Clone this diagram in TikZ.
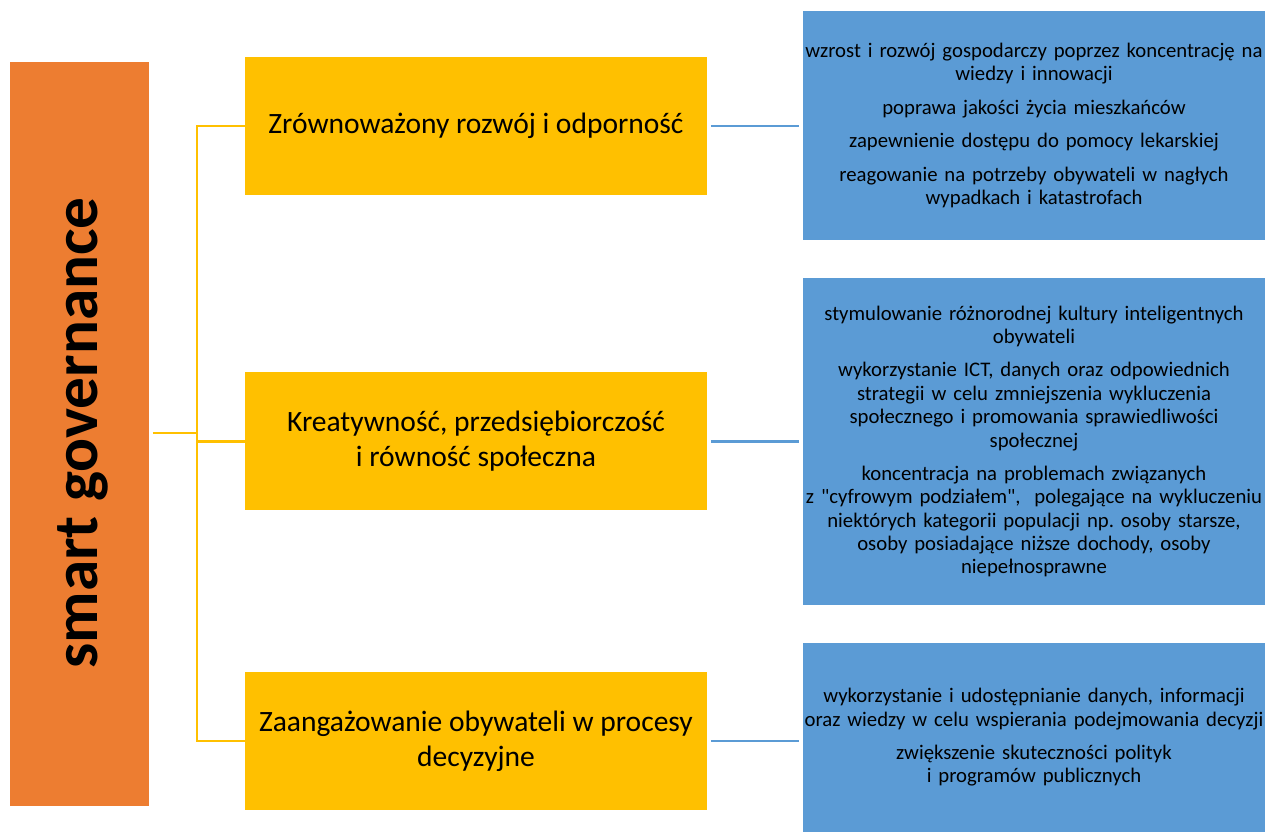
\documentclass[tikz,border=0pt]{standalone}
\usepackage{fontspec}
\setmainfont{Carlito}
\usepackage{tikz}
\usetikzlibrary{positioning}

\definecolor{govorange}{HTML}{ED7D31}
\definecolor{areayellow}{HTML}{FFC000}
\definecolor{goalblue}{HTML}{5B9BD5}

\begin{document}
\begin{tikzpicture}[
    area/.style={fill=areayellow, minimum width=9.24cm, minimum height=2.76cm, align=center, font=\fontsize{16.8}{20}\selectfont},
    goal/.style={fill=goalblue, minimum width=9.24cm, text width=9.24cm, align=center, inner sep=0pt, font=\fontsize{11.8}{13.3}\selectfont},
    yline/.style={draw=areayellow, line width=1.4pt},
    bline/.style={draw=goalblue, line width=1.4pt, shorten <=2pt, shorten >=2pt}
  ]
    \useasboundingbox (0,0) rectangle (25.3,16.64);
    \node[fill=govorange, minimum width=2.78cm, minimum height=14.88cm] (gov) at (1.59,7.96) {};
    \node[rotate=90, font=\bfseries\fontsize{36}{40}\selectfont] (govtext) at (1.65,7.98) {smart governance};
    \node[area] (a1) at (9.52,14.12) {Zrównoważony rozwój i odporność};
    \node[area] (a2) at (9.52,7.81) {Kreatywność, przedsiębiorczość\\i równość społeczna};
    \node[area] (a3) at (9.52,1.82) {Zaangażowanie obywateli w procesy\\decyzyjne};
    \node[goal, minimum height=4.58cm] (g1) at (20.68,14.13) {wzrost i rozwój gospodarczy poprzez koncentrację na\\wiedzy i innowacji\\[0.2cm]
      poprawa jakości życia mieszkańców\\[0.2cm]
      zapewnienie dostępu do pomocy lekarskiej\\[0.2cm]
      reagowanie na potrzeby obywateli w nagłych\\wypadkach i katastrofach};
    \node[goal, minimum height=6.54cm] (g2) at (20.68,7.81) {stymulowanie różnorodnej kultury inteligentnych\\obywateli\\[0.2cm]
      wykorzystanie ICT, danych oraz odpowiednich\\strategii w celu zmniejszenia wykluczenia\\społecznego i promowania sprawiedliwości\\społecznej\\[0.2cm]
      koncentracja na problemach związanych\\z \textquotedbl cyfrowym podziałem\textquotedbl,~ polegające na wykluczeniu\\niektórych kategorii populacji np.~osoby starsze,\\osoby posiadające niższe dochody, osoby\\niepełnosprawne};
    \node[goal, minimum height=3.78cm] (g3) at (20.68,1.89) {wykorzystanie i udostępnianie danych, informacji\\oraz wiedzy w celu wspierania podejmowania decyzji\\[0.2cm]
      zwiększenie skuteczności polityk\\i programów publicznych};
    \coordinate (trunk) at (3.94,7.98);
    \draw[yline, shorten <=2pt] (gov.east |- trunk) -- (trunk);
    \draw[yline] (a1.west) -| (trunk) |- (a3.west);
    \draw[yline] (trunk |- a2.west) -- (a2.west);
    \draw[bline] (a1.east) -- (a1.east -| g1.west);
    \draw[bline] (a2.east) -- (a2.east -| g2.west);
    \draw[bline] (a3.east) -- (a3.east -| g3.west);
  \end{tikzpicture}
\end{document}
